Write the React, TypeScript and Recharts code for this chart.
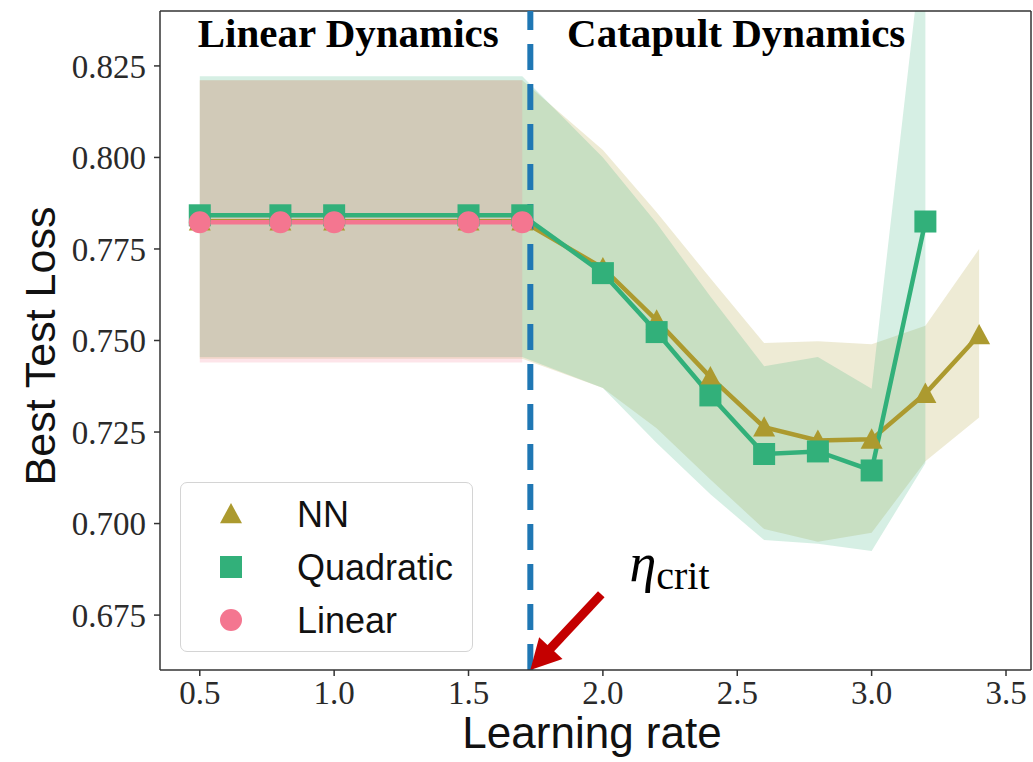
import React from 'react';
import {
  ComposedChart,
  Area,
  Line,
  XAxis,
  YAxis,
  ReferenceLine,
  ReferenceDot,
  Legend,
  Label,
} from 'recharts';

// Learning rates swept (x axis)
const learningRates = [0.5, 0.8, 1.0, 1.5, 1.7, 2.0, 2.2, 2.4, 2.6, 2.8, 3.0, 3.2, 3.4];

// Mean best test loss per model
const nnMean = [0.7826, 0.7826, 0.7826, 0.7826, 0.7826, 0.7698, 0.7555, 0.74, 0.7263, 0.7227, 0.723, 0.7355, 0.7515];
const quadMean = [0.7842, 0.7842, 0.7842, 0.7842, 0.7842, 0.7684, 0.7523, 0.735, 0.719, 0.7197, 0.7145, 0.7825, null];
const linMean = [0.7823, 0.7823, 0.7823, 0.7823, 0.7823, null, null, null, null, null, null, null, null];

// Spread (min / max over seeds)
const nnLow = [0.745, 0.745, 0.745, 0.745, 0.745, 0.737, 0.726, 0.712, 0.6985, 0.695, 0.6975, 0.717, 0.729];
const nnHigh = [0.8211, 0.8211, 0.8211, 0.8211, 0.8211, 0.802, 0.785, 0.767, 0.7493, 0.7498, 0.749, 0.754, 0.775];
const quadLow = [0.7455, 0.7455, 0.7455, 0.7455, 0.7455, 0.737, 0.722, 0.708, 0.6955, 0.6945, 0.6925, 0.7165, null];
const quadHigh = [0.8222, 0.8222, 0.8222, 0.8222, 0.8222, 0.8, 0.782, 0.762, 0.743, 0.7455, 0.7368, 0.865, null];
const linLow = [0.744, 0.744, 0.744, 0.744, 0.744, null, null, null, null, null, null, null, null];
const linHigh = [0.8211, 0.8211, 0.8211, 0.8211, 0.8211, null, null, null, null, null, null, null, null];

// Critical learning rate separating the two regimes
const etaCrit = 1.73;

const xTicks = [0.5, 1.0, 1.5, 2.0, 2.5, 3.0, 3.5];
const yTicks = [0.675, 0.7, 0.725, 0.75, 0.775, 0.8, 0.825];
const xDomain = [0.352, 3.593];
const yDomain = [0.66, 0.84];

const seriesNames = ['NN', 'Quadratic', 'Linear'];
const seriesColors = ['#ac9a2f', '#32b07a', '#f47690'];

const rows = learningRates.map((lr, i) => ({
  lr,
  nn: nnMean[i] ?? undefined,
  quad: quadMean[i] ?? undefined,
  lin: linMean[i] ?? undefined,
  nnBand: nnLow[i] != null ? [nnLow[i], nnHigh[i]] : undefined,
  quadBand: quadLow[i] != null ? [quadLow[i], quadHigh[i]] : undefined,
  linBand: linLow[i] != null ? [linLow[i], linHigh[i]] : undefined,
}));

const MARK = 11;

function Marker({ kind, cx, cy, color }: { kind: number; cx: number; cy: number; color: string }) {
  if (kind === 0) {
    const pts = `${cx},${cy - MARK} ${cx - MARK},${cy + MARK * 0.85} ${cx + MARK},${cy + MARK * 0.85}`;
    return <polygon points={pts} fill={color} />;
  }
  if (kind === 1) {
    return <rect x={cx - MARK} y={cy - MARK} width={MARK * 2} height={MARK * 2} fill={color} />;
  }
  return <circle cx={cx} cy={cy} r={MARK} fill={color} />;
}

const makeDot = (kind: number) => (props: any) => {
  const { cx, cy, index } = props;
  if (cx == null || cy == null || Number.isNaN(cy)) return <g key={`d${kind}-${index}`} />;
  return (
    <g key={`d${kind}-${index}`}>
      <Marker kind={kind} cx={cx} cy={cy} color={seriesColors[kind]} />
    </g>
  );
};

const serif = '"Liberation Serif", "Times New Roman", serif';
const sans = '"Liberation Sans", Arial, Helvetica, sans-serif';

const renderLegend = () => (
  <div
    style={{
      width: 293,
      height: 170,
      border: '1.5px solid #d4d4d4',
      borderRadius: 7,
      background: '#ffffff',
      boxSizing: 'border-box',
    }}
  >
    <svg width={290} height={167} style={{ display: 'block' }}>
      {seriesNames.map((name, i) => (
        <g key={name}>
          <Marker kind={i} cx={50} cy={31 + i * 53} color={seriesColors[i]} />
          <text x={116} y={31 + i * 53} dy="0.36em" fontFamily={sans} fontSize={36} fill="#111">
            {name}
          </text>
        </g>
      ))}
    </svg>
  </div>
);

const Arrow = (props: any) => {
  const { x1, y1, x2, y2 } = props;
  const dx = x2 - x1;
  const dy = y2 - y1;
  const len = Math.sqrt(dx * dx + dy * dy);
  const ux = dx / len;
  const uy = dy / len;
  const px = -uy;
  const py = ux;
  const head = 30;
  const half = 16;
  const bx = x2 - ux * head;
  const by = y2 - uy * head;
  return (
    <g>
      <line x1={x1} y1={y1} x2={bx + ux * 2} y2={by + uy * 2} stroke="#c40000" strokeWidth={9} />
      <polygon
        points={`${x2},${y2} ${bx + px * half},${by + py * half} ${bx - px * half},${by - py * half}`}
        fill="#c40000"
      />
    </g>
  );
};

const textShape = (content: React.ReactNode, anchor: string, style: any) => (p: any) => (
  <text x={p.cx} y={p.cy} textAnchor={anchor} {...style}>
    {content}
  </text>
);

export default function App() {
  return (
    <div style={{ position: 'absolute', left: 0, top: 0, background: '#fff' }}>
      <ComposedChart
        width={1033}
        height={762}
        data={rows}
        margin={{ top: 11, right: 2, left: 0, bottom: 0 }}
      >
        <XAxis
          dataKey="lr"
          type="number"
          domain={xDomain}
          allowDataOverflow
          ticks={xTicks}
          tickFormatter={(v: number) => v.toFixed(1)}
          height={92}
          tickSize={6}
          tickMargin={5}
          stroke="#333"
          strokeWidth={1.5}
          tick={{ fontFamily: serif, fontSize: 33, fill: '#2a2a2a' }}
        >
          <Label
            content={() => (
              <text x={592} y={748} textAnchor="middle" fontFamily={sans} fontSize={44} fill="#111">
                Learning rate
              </text>
            )}
          />
        </XAxis>
        <YAxis
          type="number"
          domain={yDomain}
          allowDataOverflow
          ticks={yTicks}
          tickFormatter={(v: number) => v.toFixed(3)}
          width={160}
          tickSize={6}
          tickMargin={8}
          stroke="#333"
          strokeWidth={1.5}
          tick={{ fontFamily: serif, fontSize: 33, fill: '#2a2a2a' }}
        >
          <Label
            content={() => (
              <text
                x={40}
                y={346}
                textAnchor="middle"
                dominantBaseline="central"
                transform="rotate(-90 40 346)"
                fontFamily={sans}
                fontSize={43}
                fill="#111"
              >
                Best Test Loss
              </text>
            )}
          />
        </YAxis>

        <Area
          dataKey="nnBand"
          type="linear"
          stroke="none"
          fill={seriesColors[0]}
          fillOpacity={0.2}
          isAnimationActive={false}
          dot={false}
          activeDot={false}
          legendType="none"
        />
        <Area
          dataKey="quadBand"
          type="linear"
          stroke="none"
          fill={seriesColors[1]}
          fillOpacity={0.2}
          isAnimationActive={false}
          dot={false}
          activeDot={false}
          legendType="none"
        />
        <Area
          dataKey="linBand"
          type="linear"
          stroke="none"
          fill={seriesColors[2]}
          fillOpacity={0.2}
          isAnimationActive={false}
          dot={false}
          activeDot={false}
          legendType="none"
        />

        <Line
          dataKey="nn"
          name={seriesNames[0]}
          type="linear"
          stroke={seriesColors[0]}
          strokeWidth={4.5}
          dot={makeDot(0)}
          activeDot={false}
          isAnimationActive={false}
        />
        <Line
          dataKey="quad"
          name={seriesNames[1]}
          type="linear"
          stroke={seriesColors[1]}
          strokeWidth={4.5}
          dot={makeDot(1)}
          activeDot={false}
          isAnimationActive={false}
        />
        <Line
          dataKey="lin"
          name={seriesNames[2]}
          type="linear"
          stroke={seriesColors[2]}
          strokeWidth={4.5}
          dot={makeDot(2)}
          activeDot={false}
          isAnimationActive={false}
        />

        {/* top and right spines of the axes box */}
        <ReferenceLine y={yDomain[1]} stroke="#333" strokeWidth={1.5} ifOverflow="visible" />
        <ReferenceLine x={xDomain[1]} stroke="#333" strokeWidth={1.5} ifOverflow="visible" />

        <ReferenceLine x={etaCrit} stroke="#1f77b4" strokeWidth={6} strokeDasharray="26 14" />

        <ReferenceLine
          segment={[
            { x: 1.994, y: 0.6807 },
            { x: etaCrit, y: 0.66 },
          ]}
          ifOverflow="visible"
          shape={Arrow}
        />

        <ReferenceDot
          x={1.0525}
          y={0.8301}
          r={0}
          ifOverflow="visible"
          shape={textShape('Linear Dynamics', 'middle', {
            fontFamily: serif,
            fontWeight: 'bold',
            fontSize: 41,
            fill: '#000',
          })}
        />
        <ReferenceDot
          x={2.496}
          y={0.8301}
          r={0}
          ifOverflow="visible"
          shape={textShape('Catapult Dynamics', 'middle', {
            fontFamily: serif,
            fontWeight: 'bold',
            fontSize: 41,
            fill: '#000',
          })}
        />
        <ReferenceDot
          x={2.099}
          y={0.6844}
          r={0}
          ifOverflow="visible"
          shape={textShape(
            <>
              <tspan fontStyle="italic" fontSize={54}>η</tspan>
              <tspan fontSize={40} dy={8}>crit</tspan>
            </>,
            'start',
            { fontFamily: serif, fill: '#000' }
          )}
        />

        <Legend
          content={renderLegend}
          layout="horizontal"
          verticalAlign="middle"
          align="center"
          wrapperStyle={{ left: 180, top: 482, width: 293, height: 170 }}
        />
      </ComposedChart>
    </div>
  );
}
